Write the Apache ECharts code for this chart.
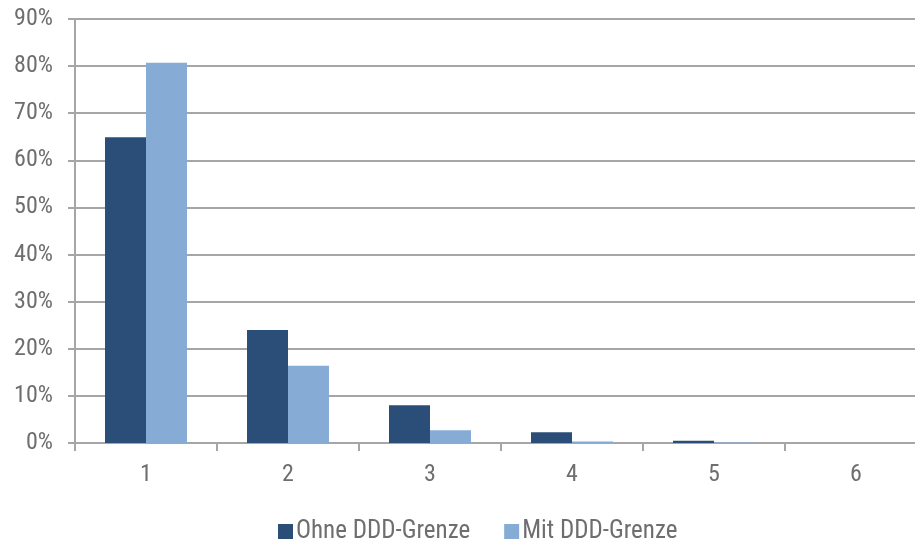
<!DOCTYPE html>
<html>
<head>
<meta charset="utf-8">
<script src="https://cdn.jsdelivr.net/npm/echarts@6/dist/echarts.min.js"></script>
<style>
  html, body { margin: 0; padding: 0; background: #fff; }
  #chart { width: 915px; height: 539px; }
</style>
</head>
<body>
<div id="chart"></div>
<script>
var categories = ['1', '2', '3', '4', '5', '6'];
var ohneGrenze = [64.9, 24.0, 8.0, 2.3, 0.5, 0.0];
var mitGrenze = [80.7, 16.4, 2.7, 0.3, 0.1, 0.0];
var seriesNames = ['Ohne DDD-Grenze', 'Mit DDD-Grenze'];

var font = '"Liberation Sans Narrow", "Roboto Condensed", Arial, sans-serif';
var myChart = echarts.init(document.getElementById('chart'));
var option = {
    animation: false,
    // the plot runs a little past the right edge in the original
    grid: { left: 75, width: 852, top: 19, height: 424, containLabel: false, outerBoundsMode: 'none' },
    legend: {
        top: 514,
        left: 273,
        itemWidth: 15,
        itemHeight: 15,
        itemGap: 34,
        icon: 'rect',
        textStyle: { color: '#6e6e6e', fontSize: 25, fontFamily: font, padding: [0, 0, 0, -2] },
        data: seriesNames
    },
    xAxis: {
        type: 'category',
        data: categories,
        axisLine: { lineStyle: { color: '#a6a6a6', width: 2 } },
        axisTick: { show: true, length: 8, lineStyle: { color: '#a6a6a6', width: 2 } },
        axisLabel: { color: '#6e6e6e', fontSize: 24, fontFamily: font, margin: 20 }
    },
    yAxis: {
        type: 'value',
        min: 0,
        max: 90,
        interval: 10,
        axisLine: { show: true, lineStyle: { color: '#a6a6a6', width: 2 } },
        axisTick: { show: true, length: 7, lineStyle: { color: '#a6a6a6', width: 2 } },
        splitLine: { lineStyle: { color: '#a6a6a6', width: 2 } },
        axisLabel: { color: '#6e6e6e', fontSize: 24, fontFamily: font, margin: 22, formatter: '{value}%' }
    },
    series: [
        {
            name: seriesNames[0],
            type: 'bar',
            data: ohneGrenze,
            barWidth: 41,
            barGap: '0%',
            itemStyle: { color: '#2a4e77' }
        },
        {
            name: seriesNames[1],
            type: 'bar',
            data: mitGrenze,
            barWidth: 41,
            barGap: '0%',
            itemStyle: { color: '#86acd5' }
        }
    ]
};
myChart.setOption(option);
</script>
</body>
</html>
